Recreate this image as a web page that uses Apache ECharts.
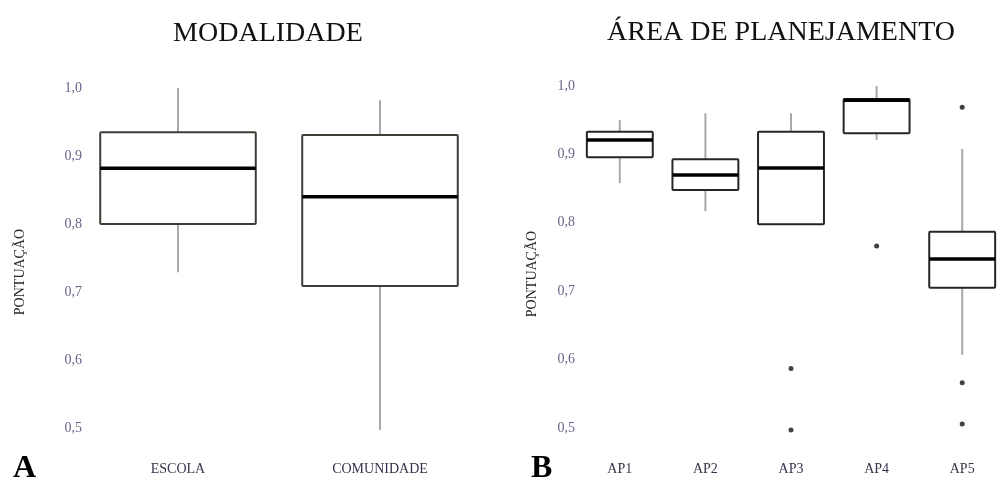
<!DOCTYPE html>
<html>
<head>
<meta charset="utf-8">
<script src="https://cdn.jsdelivr.net/npm/echarts@6/dist/echarts.min.js"></script>
<style>
  html, body { margin: 0; padding: 0; background: #fff; }
  #chart { width: 1005px; height: 480px; }
</style>
</head>
<body>
<div id="chart"></div>
<script>
// Panel A: score by modality
const modalidadeCats = ['ESCOLA', 'COMUNIDADE'];
// [lower whisker, Q1, median, Q3, upper whisker]
const modalidadeStats = [
  [0.729, 0.800, 0.882, 0.935, 1.000],
  [0.497, 0.709, 0.840, 0.931, 0.982]
];

// Panel B: score by planning area
const areaCats = ['AP1', 'AP2', 'AP3', 'AP4', 'AP5'];
const areaStats = [
  [0.858, 0.896, 0.921, 0.933, 0.950],
  [0.817, 0.848, 0.870, 0.893, 0.960],
  [0.798, 0.798, 0.880, 0.933, 0.960],
  [0.921, 0.931, 0.979, 0.981, 1.000],
  [0.607, 0.705, 0.747, 0.787, 0.908]
];
// [category index, value]
const areaOutliers = [
  [2, 0.587], [2, 0.497],
  [3, 0.766],
  [4, 0.969], [4, 0.566], [4, 0.506]
];

const serif = '"Liberation Serif", "DejaVu Serif", serif';

function boxRenderer(boxColor) {
  return function (params, api) {
    const cat = api.value(0);
    const lo = api.coord([cat, api.value(1)]);
    const q1 = api.coord([cat, api.value(2)]);
    const med = api.coord([cat, api.value(3)]);
    const q3 = api.coord([cat, api.value(4)]);
    const hi = api.coord([cat, api.value(5)]);
    const half = api.size([1, 0])[0] * 0.77 / 2;
    const x = q1[0];
    const whisker = { stroke: '#a9a9a9', lineWidth: 2 };
    return {
      type: 'group',
      children: [
        { type: 'line', shape: { x1: x, y1: q3[1], x2: x, y2: hi[1] }, style: whisker },
        { type: 'line', shape: { x1: x, y1: q1[1], x2: x, y2: lo[1] }, style: whisker },
        {
          type: 'rect',
          shape: { x: x - half, y: q3[1], width: half * 2, height: q1[1] - q3[1], r: 1 },
          style: { fill: '#fff', stroke: boxColor, lineWidth: 2 }
        },
        {
          type: 'line',
          shape: { x1: x - half, y1: med[1], x2: x + half, y2: med[1] },
          style: { stroke: '#000', lineWidth: 3.5 }
        }
      ]
    };
  };
}

function toRows(stats) {
  return stats.map((s, i) => [i].concat(s));
}

const yAxisBase = {
  type: 'value',
  min: 0.5,
  max: 1.0,
  interval: 0.1,
  axisLine: { show: false },
  axisTick: { show: false },
  splitLine: { show: false },
  axisLabel: {
    fontFamily: serif,
    fontSize: 14,
    color: '#66668a',
    formatter: v => v.toFixed(1).replace('.', ',')
  }
};

const xAxisBase = {
  type: 'category',
  axisLine: { show: false },
  axisTick: { show: false },
  splitLine: { show: false },
  axisLabel: { fontFamily: serif, fontSize: 14, color: '#34344a', margin: 34 }
};

const nameStyle = { fontFamily: serif, fontSize: 14, fill: '#2a2a2a' };

const chart = echarts.init(document.getElementById('chart'), null, { renderer: 'canvas' });

chart.setOption({
  backgroundColor: '#fff',
  animation: false,
  title: [
    { text: 'MODALIDADE', left: 263, top: 15, textAlign: 'center',
      textStyle: { fontFamily: serif, fontSize: 28, fontWeight: 'normal', color: '#111' } },
    { text: 'ÁREA DE PLANEJAMENTO', left: 776, top: 14, textAlign: 'center',
      textStyle: { fontFamily: serif, fontSize: 28, fontWeight: 'normal', color: '#111' } },
    { text: 'A', left: 8, top: 448,
      textStyle: { fontFamily: serif, fontSize: 32, fontWeight: 'bold', color: '#000' } },
    { text: 'B', left: 526, top: 448,
      textStyle: { fontFamily: serif, fontSize: 32, fontWeight: 'bold', color: '#000' } }
  ],
  graphic: [
    { type: 'text', x: 20, y: 272, rotation: Math.PI / 2,
      style: Object.assign({ text: 'PONTUAÇÃO', align: 'center', verticalAlign: 'middle' }, nameStyle) },
    { type: 'text', x: 532, y: 274, rotation: Math.PI / 2,
      style: Object.assign({ text: 'PONTUAÇÃO', align: 'center', verticalAlign: 'middle' }, nameStyle) }
  ],
  grid: [
    { left: 77, width: 404, top: 88, bottom: 52 },
    { left: 577, width: 431, top: 86, bottom: 52 }
  ],
  xAxis: [
    Object.assign({}, xAxisBase, { gridIndex: 0, data: modalidadeCats }),
    Object.assign({}, xAxisBase, { gridIndex: 1, data: areaCats })
  ],
  yAxis: [
    Object.assign({}, yAxisBase, { gridIndex: 0,
      axisLabel: Object.assign({}, yAxisBase.axisLabel, { margin: -5 }) }),
    Object.assign({}, yAxisBase, { gridIndex: 1,
      axisLabel: Object.assign({}, yAxisBase.axisLabel, { margin: 2 }) })
  ],
  series: [
    {
      type: 'custom',
      xAxisIndex: 0, yAxisIndex: 0,
      renderItem: boxRenderer('#3b3e35'),
      encode: { x: 0, y: [1, 2, 3, 4, 5] },
      data: toRows(modalidadeStats),
      clip: false
    },
    {
      type: 'custom',
      xAxisIndex: 1, yAxisIndex: 1,
      renderItem: boxRenderer('#262626'),
      encode: { x: 0, y: [1, 2, 3, 4, 5] },
      data: toRows(areaStats),
      clip: false
    },
    {
      type: 'scatter',
      xAxisIndex: 1, yAxisIndex: 1,
      symbolSize: 5,
      itemStyle: { color: '#111' },
      data: areaOutliers,
      clip: false
    }
  ]
});
</script>
</body>
</html>
